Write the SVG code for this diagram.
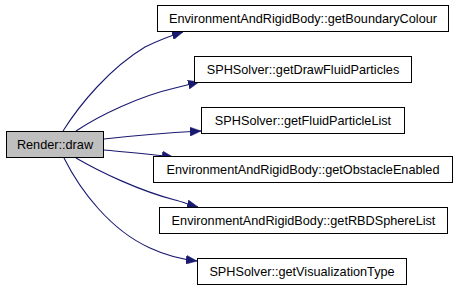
<svg xmlns="http://www.w3.org/2000/svg" width="459" height="291" viewBox="0 0 459 291">
  <style>
    .node rect { fill: #ffffff; stroke: #000000; stroke-width: 1; }
    .node.root rect { fill: #bfbfbf; }
    .node text { font-family: "Liberation Sans", Arial, sans-serif; font-size: 12.7px; fill: #000000; text-anchor: middle; }
    .edges path { fill: none; stroke: #191970; stroke-width: 1.1; marker-end: url(#arrow); }
  </style>
  <defs>
    <marker id="arrow" markerUnits="userSpaceOnUse" markerWidth="12" markerHeight="9" refX="11" refY="4.5" orient="auto">
      <path d="M0,0 L11,4.5 L0,9 z" fill="#191970" stroke="#191970" stroke-width="0.5"/>
    </marker>
  </defs>
  <rect width="459" height="291" fill="#ffffff"/>

  <g class="edges">
    <path d="M63,131 C80,104 110,68 145,47 C157,41 170,36 183,32"/>
    <path d="M76,131 C100,115 140,96 175,88 C183,86 191,84 199,82"/>
    <path d="M104,139 C130,136 165,133 201,131"/>
    <path d="M104,150 C125,152 150,154 173,157"/>
    <path d="M76,158 C100,172 140,191 175,200 C183,202 190,205 198,207"/>
    <path d="M64,158 C80,190 110,230 150,248 C165,255 180,259 197,261"/>
  </g>

  <g id="node-render-draw" class="node root">
    <rect x="6.5" y="131.5" width="97" height="26"/>
    <text x="55" y="149">Render::draw</text>
  </g>
  <g id="node-getBoundaryColour" class="node">
    <rect x="157.5" y="5.5" width="291" height="26"/>
    <text x="303" y="23">EnvironmentAndRigidBody::getBoundaryColour</text>
  </g>
  <g id="node-getDrawFluidParticles" class="node">
    <rect x="194.5" y="56.5" width="217" height="26"/>
    <text x="303" y="73.5">SPHSolver::getDrawFluidParticles</text>
  </g>
  <g id="node-getFluidParticleList" class="node">
    <rect x="201.5" y="107.5" width="203" height="26"/>
    <text x="303" y="124.5">SPHSolver::getFluidParticleList</text>
  </g>
  <g id="node-getObstacleEnabled" class="node">
    <rect x="153.5" y="156.5" width="299" height="26"/>
    <text x="303" y="173.5">EnvironmentAndRigidBody::getObstacleEnabled</text>
  </g>
  <g id="node-getRBDSphereList" class="node">
    <rect x="159.5" y="207.5" width="288" height="26"/>
    <text x="303.5" y="224.5">EnvironmentAndRigidBody::getRBDSphereList</text>
  </g>
  <g id="node-getVisualizationType" class="node">
    <rect x="197.5" y="258.5" width="209" height="26"/>
    <text x="302" y="275.5">SPHSolver::getVisualizationType</text>
  </g>
</svg>
